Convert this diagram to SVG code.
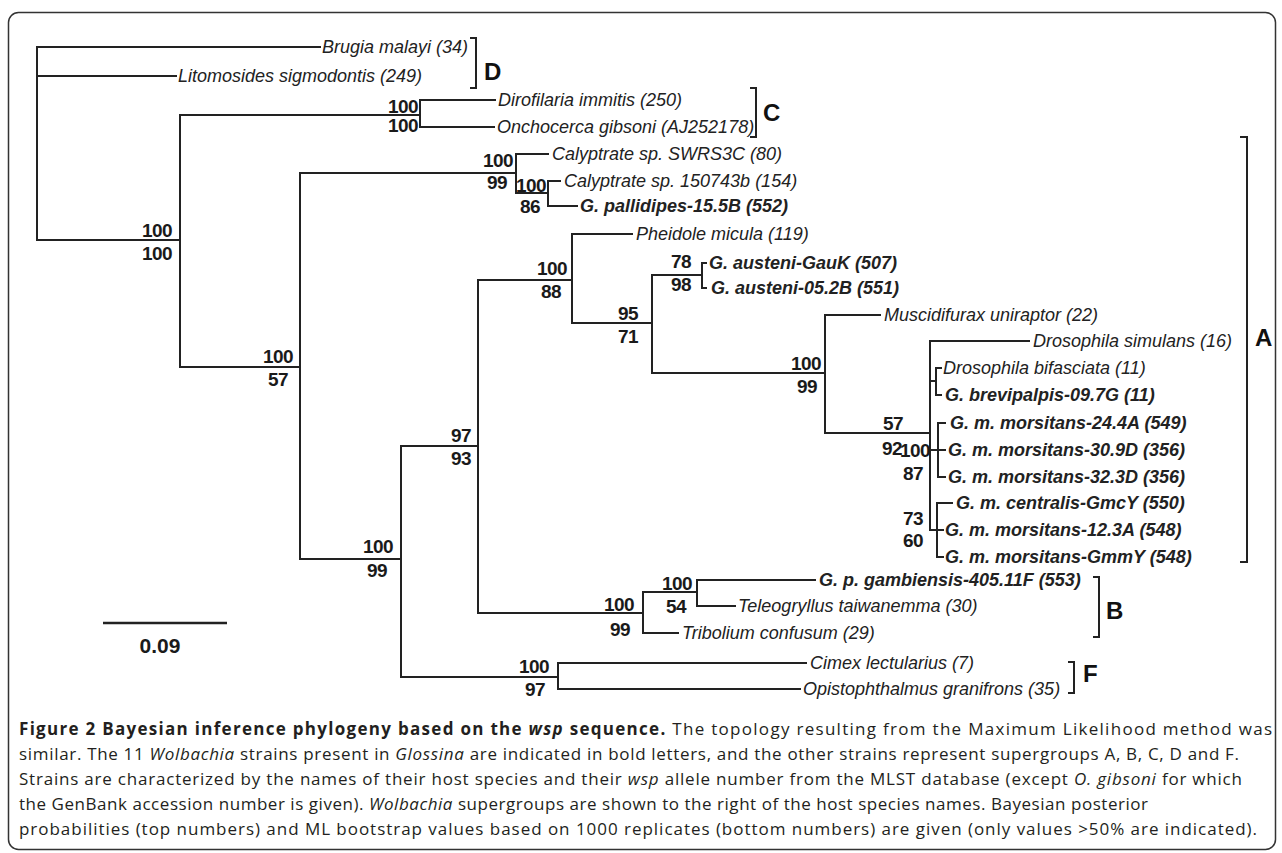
<svg xmlns="http://www.w3.org/2000/svg" width="1282" height="853" viewBox="0 0 1282 853">
<style>
.br{fill:none;stroke:#222;stroke-width:2;stroke-linecap:square}
.lf{font-family:"Liberation Sans",Arial,sans-serif;font-size:18px;font-style:italic;fill:#222}
.gl{font-weight:bold}
.sp{font-family:"Liberation Sans",Arial,sans-serif;font-size:19px;font-weight:bold;fill:#1a1a1a;text-anchor:middle;letter-spacing:-0.6px}
.bk{fill:none;stroke:#222;stroke-width:2}
.cl{font-family:"Liberation Sans",Arial,sans-serif;font-size:24px;font-weight:bold;fill:#111}
.cap{font-family:"Open Sans","Noto Sans",sans-serif;font-size:17px;fill:#231f20}
</style>
<rect x="8.5" y="12.5" width="1267" height="837" rx="10" fill="#fff" stroke="#333" stroke-width="1.5"/>
<g id="connectors" class="br">
<path d="M37 47V240M37 47H320M37 76H176M37 240H180"/>
<path d="M180 115V367M180 115H420M180 367H300"/>
<path d="M420 100V127M420 100H495M420 127H494"/>
<path d="M300 173V559M300 173H516M300 559H401"/>
<path d="M516 154V193M516 154H548M516 193H548"/>
<path d="M548 181V206M548 181H560M548 206H577"/>
<path d="M401 446V677M401 446H478M401 677H558"/>
<path d="M478 280V613M478 280H572M478 613H643"/>
<path d="M572 234V323M572 234H632M572 323H652"/>
<path d="M652 275V373M652 275H702M652 373H825"/>
<path d="M702 263V288M702 263H706M702 288H706"/>
<path d="M825 315V433M825 315H880M825 433H930"/>
<path d="M930 341V530M930 341H1029M930 381H936M930 450H938M930 530H937"/>
<path d="M936 368V395M936 368H941M936 395H941"/>
<path d="M938 423V477M938 423H945M938 450H945M938 477H945"/>
<path d="M937 503V557M937 503H952M937 530H943M937 557H943"/>
<path d="M643 592V633M643 592H697M643 633H678"/>
<path d="M697 580V606M697 580H815M697 606H735"/>
<path d="M558 663V689M558 663H806M558 689H800"/>
</g>
<g id="leaf-brugia"><text class="lf" x="322" y="53">Brugia malayi (34)</text></g>
<g id="leaf-litomosides"><text class="lf" x="178" y="82">Litomosides sigmodontis (249)</text></g>
<g id="leaf-dirofilaria"><text class="lf" x="498" y="106">Dirofilaria immitis (250)</text></g>
<g id="leaf-onchocerca"><text class="lf" x="497" y="133">Onchocerca gibsoni (AJ252178)</text></g>
<g id="leaf-calyptrate-swrs3c"><text class="lf" x="552" y="160">Calyptrate sp. SWRS3C (80)</text></g>
<g id="leaf-calyptrate-150743b"><text class="lf" x="564" y="187">Calyptrate sp. 150743b (154)</text></g>
<g id="leaf-pallidipes"><text class="lf gl" x="580" y="212">G. pallidipes-15.5B (552)</text></g>
<g id="leaf-pheidole"><text class="lf" x="636" y="240">Pheidole micula (119)</text></g>
<g id="leaf-austeni-gauk"><text class="lf gl" x="709" y="269">G. austeni-GauK (507)</text></g>
<g id="leaf-austeni-052b"><text class="lf gl" x="711" y="294">G. austeni-05.2B (551)</text></g>
<g id="leaf-muscidifurax"><text class="lf" x="884" y="321">Muscidifurax uniraptor (22)</text></g>
<g id="leaf-dros-simulans"><text class="lf" x="1033" y="347">Drosophila simulans (16)</text></g>
<g id="leaf-dros-bifasciata"><text class="lf" x="943" y="374">Drosophila bifasciata (11)</text></g>
<g id="leaf-brevipalpis"><text class="lf gl" x="945" y="401">G. brevipalpis-09.7G (11)</text></g>
<g id="leaf-mm-244a"><text class="lf gl" x="950" y="429">G. m. morsitans-24.4A (549)</text></g>
<g id="leaf-mm-309d"><text class="lf gl" x="948" y="456">G. m. morsitans-30.9D (356)</text></g>
<g id="leaf-mm-323d"><text class="lf gl" x="948" y="483">G. m. morsitans-32.3D (356)</text></g>
<g id="leaf-mc-gmcy"><text class="lf gl" x="956" y="509">G. m. centralis-GmcY (550)</text></g>
<g id="leaf-mm-123a"><text class="lf gl" x="945" y="536">G. m. morsitans-12.3A (548)</text></g>
<g id="leaf-mm-gmmy"><text class="lf gl" x="945" y="563">G. m. morsitans-GmmY (548)</text></g>
<g id="leaf-gambiensis"><text class="lf gl" x="819" y="586">G. p. gambiensis-405.11F (553)</text></g>
<g id="leaf-teleogryllus"><text class="lf" x="738" y="612">Teleogryllus taiwanemma (30)</text></g>
<g id="leaf-tribolium"><text class="lf" x="682" y="639">Tribolium confusum (29)</text></g>
<g id="leaf-cimex"><text class="lf" x="810" y="669">Cimex lectularius (7)</text></g>
<g id="leaf-opistophthalmus"><text class="lf" x="803" y="695">Opistophthalmus granifrons (35)</text></g>
<g id="node-n1"><text class="sp" x="157" y="237">100</text><text class="sp" x="157" y="260">100</text></g>
<g id="node-c"><text class="sp" x="403" y="113">100</text><text class="sp" x="403" y="132">100</text></g>
<g id="node-n2"><text class="sp" x="278" y="363">100</text><text class="sp" x="278" y="386">57</text></g>
<g id="node-cal"><text class="sp" x="498" y="167">100</text><text class="sp" x="497" y="189">99</text></g>
<g id="node-cal2"><text class="sp" x="531" y="192">100</text><text class="sp" x="530" y="213">86</text></g>
<g id="node-n3"><text class="sp" x="378" y="553">100</text><text class="sp" x="377" y="577">99</text></g>
<g id="node-n4"><text class="sp" x="461" y="442">97</text><text class="sp" x="461" y="465">93</text></g>
<g id="node-n5"><text class="sp" x="552" y="275">100</text><text class="sp" x="551" y="298">88</text></g>
<g id="node-n6"><text class="sp" x="628" y="320">95</text><text class="sp" x="628" y="343">71</text></g>
<g id="node-ga"><text class="sp" x="681" y="268">78</text><text class="sp" x="681" y="291">98</text></g>
<g id="node-n7"><text class="sp" x="806" y="370">100</text><text class="sp" x="807" y="393">99</text></g>
<g id="node-n8"><text class="sp" x="893" y="430">57</text><text class="sp" x="892" y="455">92</text></g>
<g id="node-m3"><text class="sp" x="915" y="457">100</text><text class="sp" x="913" y="480">87</text></g>
<g id="node-n12"><text class="sp" x="913" y="525">73</text><text class="sp" x="913" y="547">60</text></g>
<g id="node-n9"><text class="sp" x="619" y="611">100</text><text class="sp" x="620" y="636">99</text></g>
<g id="node-n10"><text class="sp" x="677" y="590">100</text><text class="sp" x="676" y="613">54</text></g>
<g id="node-n11"><text class="sp" x="534" y="673">100</text><text class="sp" x="535" y="696">97</text></g>
<g id="clade-D"><path class="bk" d="M470 38H476V88H470"/><text class="cl" x="484" y="80">D</text></g>
<g id="clade-C"><path class="bk" d="M750 88H756V137H750"/><text class="cl" x="763" y="121">C</text></g>
<g id="clade-A"><path class="bk" d="M1240 137H1247V562H1240"/><text class="cl" x="1255" y="346">A</text></g>
<g id="clade-B"><path class="bk" d="M1093 577H1099V637H1093"/><text class="cl" x="1106" y="619">B</text></g>
<g id="clade-F"><path class="bk" d="M1068 662H1074V693H1068"/><text class="cl" x="1083" y="682">F</text></g>
<g id="scale-bar"><path d="M103 623H227" stroke="#222" stroke-width="2.5"/><text x="160" y="653" text-anchor="middle" font-family="Liberation Sans,Arial,sans-serif" font-size="21" font-weight="bold" fill="#1a1a1a">0.09</text></g>
<g id="caption" class="cap">
<text x="19" y="735" textLength="1253" lengthAdjust="spacing"><tspan font-weight="bold">Figure 2 Bayesian inference phylogeny based on the </tspan><tspan font-weight="bold" font-style="italic">wsp</tspan><tspan font-weight="bold"> sequence.</tspan> The topology resulting from the Maximum Likelihood method was</text>
<text x="19" y="760" textLength="1220" lengthAdjust="spacing">similar. The 11 <tspan font-style="italic">Wolbachia</tspan> strains present in <tspan font-style="italic">Glossina</tspan> are indicated in bold letters, and the other strains represent supergroups A, B, C, D and F.</text>
<text x="19" y="785" textLength="1223" lengthAdjust="spacing">Strains are characterized by the names of their host species and their <tspan font-style="italic">wsp</tspan> allele number from the MLST database (except <tspan font-style="italic">O. gibsoni</tspan> for which</text>
<text x="19" y="810" textLength="1129" lengthAdjust="spacing">the GenBank accession number is given). <tspan font-style="italic">Wolbachia</tspan> supergroups are shown to the right of the host species names. Bayesian posterior</text>
<text x="19" y="835" textLength="1238" lengthAdjust="spacing">probabilities (top numbers) and ML bootstrap values based on 1000 replicates (bottom numbers) are given (only values &gt;50% are indicated).</text>
</g>
</svg>
